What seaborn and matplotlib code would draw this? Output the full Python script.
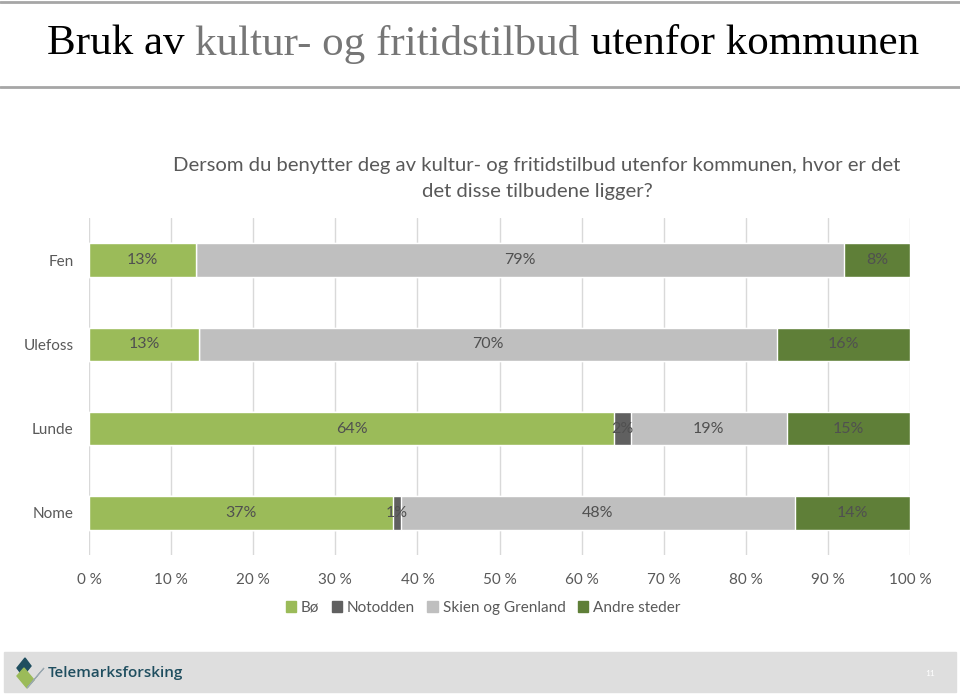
import numpy as np
import pandas as pd
import matplotlib
matplotlib.use('Agg')
import matplotlib.pyplot as plt
from matplotlib.patches import Rectangle, Polygon
import seaborn as sns

steder = ['Fen', 'Ulefoss', 'Lunde', 'Nome']
serier = ['Bø', 'Notodden', 'Skien og Grenland', 'Andre steder']
bo = [13, 13.4, 64, 37]
notodden = [0, 0, 2, 1]
skien = [79, 70.4, 19, 48]
andre = [8, 16.2, 15, 14]
farger = ['#9bbb59', '#606060', '#bfbfbf', '#5f7f38']
xticks = [0, 10, 20, 30, 40, 50, 60, 70, 80, 90, 100]

sns.set_theme(style='white')
plt.rcParams['font.family'] = ['Lato', 'DejaVu Sans']

df = pd.DataFrame({'sted': steder, 'Bø': bo, 'Notodden': notodden,
                   'Skien og Grenland': skien, 'Andre steder': andre})
cum = df[serier].cumsum(axis=1)

fig = plt.figure(figsize=(9.6, 6.94), dpi=100)
ax = fig.add_axes([89 / 960, 1 - 555 / 694, 821 / 960, 337 / 694])

# stablede søyler: tegn kumulative summer bakfra
for s, c in reversed(list(zip(serier, farger))):
    sns.barplot(x=cum[s], y=df['sted'], color=c, orient='h', width=0.4,
                saturation=1, ax=ax, zorder=3)

for i in range(len(steder)):
    for s in serier:
        v = df.loc[i, s]
        if v <= 0:
            continue
        mid = cum.loc[i, s] - v / 2
        ax.text(mid, i, f'{v:.0f}%', ha='center', va='center',
                fontsize=11.5, color='#505050', zorder=5)

ax.set_xlim(0, 100)
ax.set_ylim(3.5, -0.5)
ax.set_xticks(xticks)
ax.set_xticklabels([f'{t} %' for t in xticks], fontsize=11, color='#595959')
ax.tick_params(axis='y', labelsize=11, labelcolor='#595959', length=0, pad=11)
ax.tick_params(axis='x', length=0, pad=13)
ax.set_xlabel('')
ax.set_ylabel('')
ax.grid(axis='x', color='#d9d9d9', linewidth=1, zorder=0)
for sp in ax.spines.values():
    sp.set_visible(False)

handles = [Rectangle((0, 0), 1, 1, color=c) for c in farger]
fig.legend(handles, serier, loc='center', bbox_to_anchor=(483 / 960, 1 - 608 / 694),
           ncol=4, frameon=False, fontsize=11, handlelength=0.7, handleheight=0.7,
           handletextpad=0.3, columnspacing=0.8, labelcolor='#595959')

fig.text(537 / 960, 1 - 165 / 694,
         'Dersom du benytter deg av kultur- og fritidstilbud utenfor kommunen, hvor er det',
         ha='center', va='center', fontsize=14.6, color='#595959')
fig.text(537 / 960, 1 - 192 / 694, 'det disse tilbudene ligger?',
         ha='center', va='center', fontsize=14.6, color='#595959')

# overskrift
fig.add_artist(plt.Line2D([0, 1], [1 - 2 / 694] * 2, color='#a6a6a6', lw=2))
fig.add_artist(plt.Line2D([0, 1], [1 - 87 / 694] * 2, color='#a6a6a6', lw=2))
deler = [('Bruk av ', '#000000'), ('kultur- og fritidstilbud', '#767676'),
         (' utenfor kommunen', '#000000')]
fig.canvas.draw()
r = fig.canvas.get_renderer()
x = 47 / 960
for tekst, c in deler:
    t = fig.text(x, 1 - 44 / 694, tekst, ha='left', va='center', fontsize=31,
                 color=c, family='Liberation Serif')
    bb = t.get_window_extent(renderer=r)
    x += bb.width / fig.bbox.width

# bunnfelt med logo
fig.add_artist(Rectangle((4 / 960, 2 / 694), 952 / 960, 40 / 694,
                         transform=fig.transFigure, color='#dedede', zorder=0))
fig.add_artist(Polygon([(17 / 960, 1 - 668 / 694), (25 / 960, 1 - 658 / 694),
                        (31 / 960, 1 - 666 / 694), (23 / 960, 1 - 676 / 694)],
                       transform=fig.transFigure, color='#1f4e5f'))
fig.add_artist(Polygon([(17 / 960, 1 - 676 / 694), (24 / 960, 1 - 668 / 694),
                        (34 / 960, 1 - 680 / 694), (27 / 960, 1 - 688 / 694)],
                       transform=fig.transFigure, color='#9bbb59'))
fig.add_artist(Polygon([(27 / 960, 1 - 688 / 694), (34 / 960, 1 - 680 / 694),
                        (44 / 960, 1 - 668 / 694), (37 / 960, 1 - 676 / 694)],
                       transform=fig.transFigure, facecolor='none',
                       edgecolor='#9aa8b0', lw=0.8))
fig.text(48 / 960, 1 - 673 / 694, 'Telemarksforsking', ha='left', va='center',
         fontsize=11, color='#1f4e5f', family='Open Sans', fontweight='semibold')
fig.text(930 / 960, 1 - 674 / 694, '11', ha='center', va='center', fontsize=6,
         color='white')

fig.savefig('out.png', dpi=100)
